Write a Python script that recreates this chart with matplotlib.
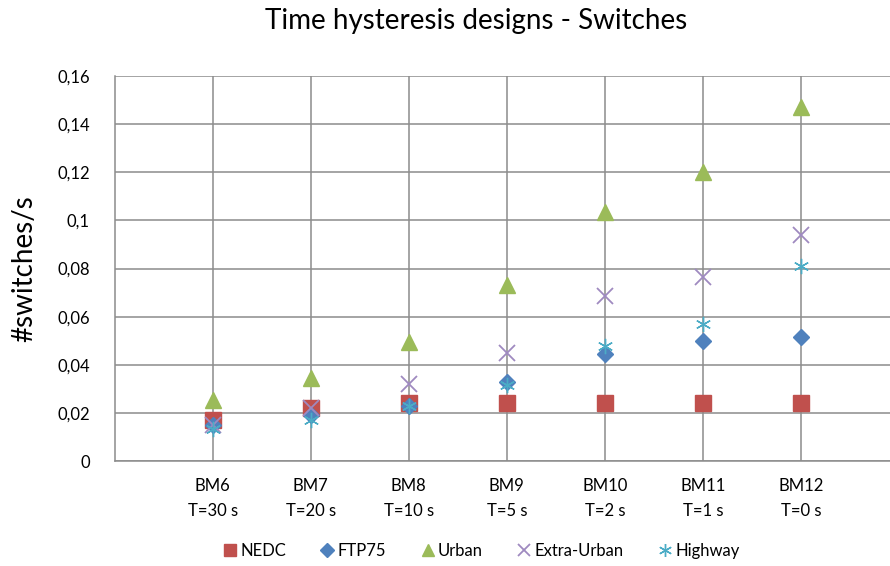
import matplotlib

matplotlib.use("Agg")
import matplotlib.pyplot as plt
from matplotlib.ticker import FuncFormatter

plt.rcParams["font.family"] = ["Lato", "DejaVu Sans"]

designs = ["BM6", "BM7", "BM8", "BM9", "BM10", "BM11", "BM12"]
hysteresis = ["T=30 s", "T=20 s", "T=10 s", "T=5 s", "T=2 s", "T=1 s", "T=0 s"]

nedc = [0.017, 0.022, 0.024, 0.024, 0.024, 0.024, 0.024]
ftp75 = [0.015, 0.019, 0.023, 0.033, 0.0445, 0.050, 0.0515]
urban = [0.0255, 0.0345, 0.0495, 0.073, 0.1035, 0.120, 0.147]
extra_urban = [0.015, 0.022, 0.032, 0.045, 0.0685, 0.0765, 0.094]
highway = [0.0135, 0.017, 0.023, 0.0315, 0.048, 0.057, 0.081]

series = [
    ("NEDC", nedc, "s", "#C0504D", 11),
    ("FTP75", ftp75, "D", "#4F81BD", 8),
    ("Urban", urban, "^", "#9BBB59", 11),
    ("Extra-Urban", extra_urban, "x", "#9F8AC0", 11),
    ("Highway", highway, (6, 2, 0), "#4BACC6", 11),
]

fig = plt.figure(figsize=(8.9, 5.66), dpi=100)
ax = fig.add_axes([0.129, 0.1855, 0.871, 0.6802])

x = list(range(len(designs)))
for name, vals, marker, color, size in series:
    ax.plot(x, vals, linestyle="none", marker=marker, color=color,
            markersize=size, markeredgewidth=1.3 if marker == "x" else 1.0,
            label=name, zorder=3)

ax.set_xlim(-1, 6.91)
ax.set_ylim(0, 0.16)
ax.set_yticks([i * 0.02 for i in range(9)])
ax.yaxis.set_major_formatter(FuncFormatter(
    lambda v, _: "0" if abs(v) < 1e-9 else f"{v:.2f}".rstrip("0").replace(".", ",")))
ax.set_xticks(x)
ax.set_xticklabels([f"{d}\n{t}" for d, t in zip(designs, hysteresis)],
                   fontsize=12, linespacing=1.75)
ax.tick_params(axis="y", labelsize=12, length=0, pad=18)
ax.tick_params(axis="x", length=0, pad=12)

ax.grid(True, color="#8c8c8c", linewidth=1.1)
ax.set_axisbelow(True)
for side in ("top", "right"):
    ax.spines[side].set_visible(False)
for side in ("left", "bottom"):
    ax.spines[side].set_color("#8c8c8c")
    ax.spines[side].set_linewidth(1.1)

ax.set_ylabel("#switches/s", fontsize=20, labelpad=14)
fig.suptitle("Time hysteresis designs - Switches", fontsize=20, y=0.985, x=0.535)

fig.legend(loc="center", bbox_to_anchor=(0.54, 0.027), ncol=5, frameon=False,
           fontsize=12, handletextpad=0.1, columnspacing=2.0, handlelength=1.0,
           markerscale=0.85)

fig.savefig("out.png", dpi=100)
